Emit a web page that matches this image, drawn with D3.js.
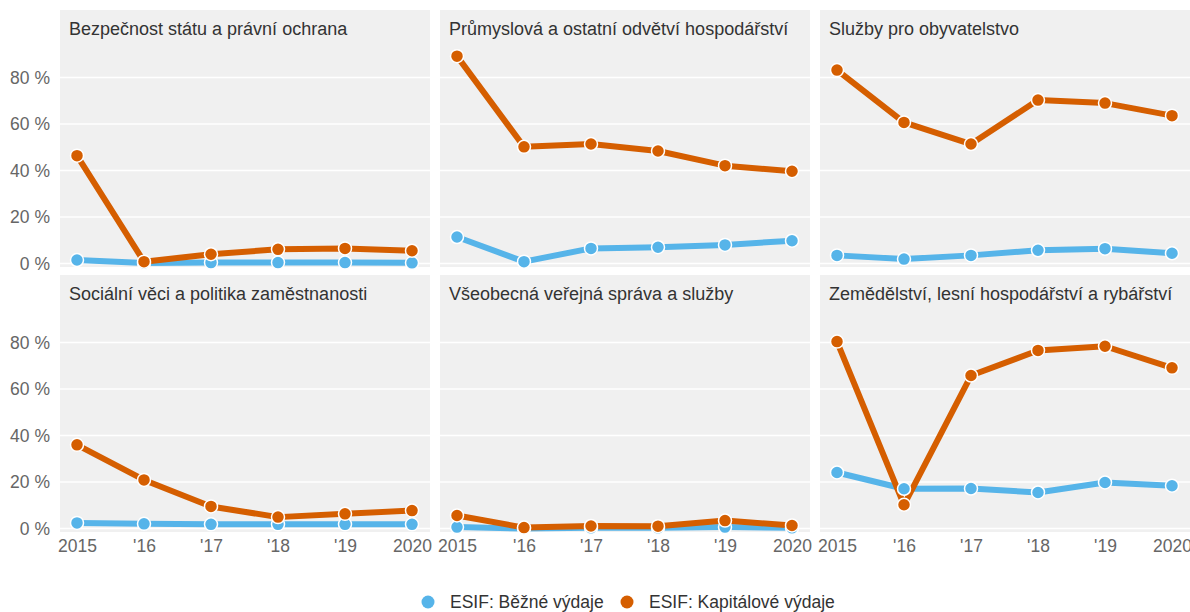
<!DOCTYPE html>
<html>
<head>
<meta charset="utf-8">
<script src="https://cdn.jsdelivr.net/npm/d3@7"></script>
<style>
  body { margin: 0; background: #fff; }
  svg { display: block; font-family: "Liberation Sans", Arial, sans-serif; }
</style>
</head>
<body>
<svg id="chart" width="1190" height="612"></svg>
<script>
// years on the x axis and their labels
var years = [2015, 2016, 2017, 2018, 2019, 2020];
var yearLabels = ["2015", "'16", "'17", "'18", "'19", "2020"];
var yTicks = [0, 20, 40, 60, 80];

// panel titles, in reading order
var panels = [
  "Bezpečnost státu a právní ochrana",
  "Průmyslová a ostatní odvětví hospodářství",
  "Služby pro obyvatelstvo",
  "Sociální věci a politika zaměstnanosti",
  "Všeobecná veřejná správa a služby",
  "Zemědělství, lesní hospodářství a rybářství"
];

// ESIF: Běžné výdaje (%)
var bezne = [
  [1.5, 0.2, 0.4, 0.4, 0.4, 0.3],
  [11.4, 0.8, 6.5, 7.0, 8.0, 9.8],
  [3.5, 1.9, 3.5, 5.7, 6.4, 4.4],
  [2.4, 2.0, 1.8, 1.8, 1.8, 1.8],
  [0.6, 0.0, 0.3, 0.3, 0.6, 0.3],
  [24.1, 17.1, 17.2, 15.5, 19.8, 18.4]
];

// ESIF: Kapitálové výdaje (%)
var kapitalove = [
  [46.4, 0.8, 4.0, 6.1, 6.5, 5.5],
  [89.2, 50.2, 51.4, 48.4, 42.1, 39.7],
  [83.2, 60.7, 51.4, 70.3, 69.0, 63.6],
  [36.0, 20.9, 9.5, 4.9, 6.3, 7.7],
  [5.6, 0.4, 1.1, 1.0, 3.4, 1.3],
  [80.4, 10.2, 65.8, 76.6, 78.4, 69.1]
];

var seriesNames = ["ESIF: Běžné výdaje", "ESIF: Kapitálové výdaje"];
var colors = ["#56B4E9", "#D55E00"];

var svg = d3.select("#chart");

var panelW = 370, panelH = 257;
var colX = [60, 440, 820];
var rowY = [10, 275];

var x = d3.scalePoint().domain(years).range([17, 352]);
var y = d3.scaleLinear().domain([-1.5, 109.05]).range([panelH, 0]);

var line = d3.line()
  .x(function(d, i){ return x(years[i]); })
  .y(function(d){ return y(d); });

panels.forEach(function(title, p){
  var col = p % 3, row = Math.floor(p / 3);
  var g = svg.append("g")
    .attr("transform", "translate(" + colX[col] + "," + rowY[row] + ")");

  // panel background
  g.append("rect")
    .attr("width", panelW)
    .attr("height", panelH)
    .attr("fill", "#f0f0f0");

  // gridlines
  g.selectAll(".grid")
    .data(yTicks)
    .enter().append("line")
    .attr("x1", 0).attr("x2", panelW)
    .attr("y1", function(d){ return y(d); })
    .attr("y2", function(d){ return y(d); })
    .attr("stroke", "#fff")
    .attr("stroke-width", 1.5);

  // panel title
  g.append("text")
    .attr("x", 9)
    .attr("y", 24.5)
    .attr("font-size", 18)
    .attr("fill", "#333")
    .text(title);

  // y axis labels on the left column only
  if (col == 0){
    var yAxis = d3.axisLeft(y)
      .tickValues(yTicks)
      .tickSize(0)
      .tickPadding(10)
      .tickFormat(function(d){ return d + " %"; });
    var ya = g.append("g").call(yAxis);
    ya.select(".domain").remove();
    ya.selectAll("text")
      .attr("font-size", 17.5)
      .attr("font-family", "Liberation Sans, Arial, sans-serif")
      .attr("fill", "#666");
  }

  // x axis labels on the bottom row only
  if (row == 1){
    var xAxis = d3.axisBottom(x)
      .tickSize(0)
      .tickPadding(11)
      .tickFormat(function(d, i){ return yearLabels[i]; });
    var xa = g.append("g")
      .attr("transform", "translate(0," + y(0) + ")")
      .call(xAxis);
    xa.select(".domain").remove();
    xa.selectAll("text")
      .attr("font-size", 17.5)
      .attr("font-family", "Liberation Sans, Arial, sans-serif")
      .attr("fill", "#666");
  }

  var data = [bezne[p], kapitalove[p]];

  // lines first, then points on top
  data.forEach(function(vals, s){
    g.append("path")
      .datum(vals)
      .attr("d", line)
      .attr("fill", "none")
      .attr("stroke", colors[s])
      .attr("stroke-width", 6)
      .attr("stroke-linejoin", "round")
      .attr("stroke-linecap", "round");
  });
  data.forEach(function(vals, s){
    g.selectAll(".pt" + s)
      .data(vals)
      .enter().append("circle")
      .attr("cx", function(d, i){ return x(years[i]); })
      .attr("cy", function(d){ return y(d); })
      .attr("r", 6.5)
      .attr("fill", colors[s])
      .attr("stroke", "#fff")
      .attr("stroke-width", 1.5);
  });
});

// legend
var legendPos = [428, 627];
seriesNames.forEach(function(name, s){
  var lg = svg.append("g").attr("transform", "translate(" + legendPos[s] + ",602)");
  lg.append("circle").attr("r", 6.5).attr("fill", colors[s]);
  lg.append("text")
    .attr("x", 22)
    .attr("y", 6)
    .attr("font-size", 17.5)
    .attr("fill", "#333")
    .text(name);
});
</script>
</body>
</html>
